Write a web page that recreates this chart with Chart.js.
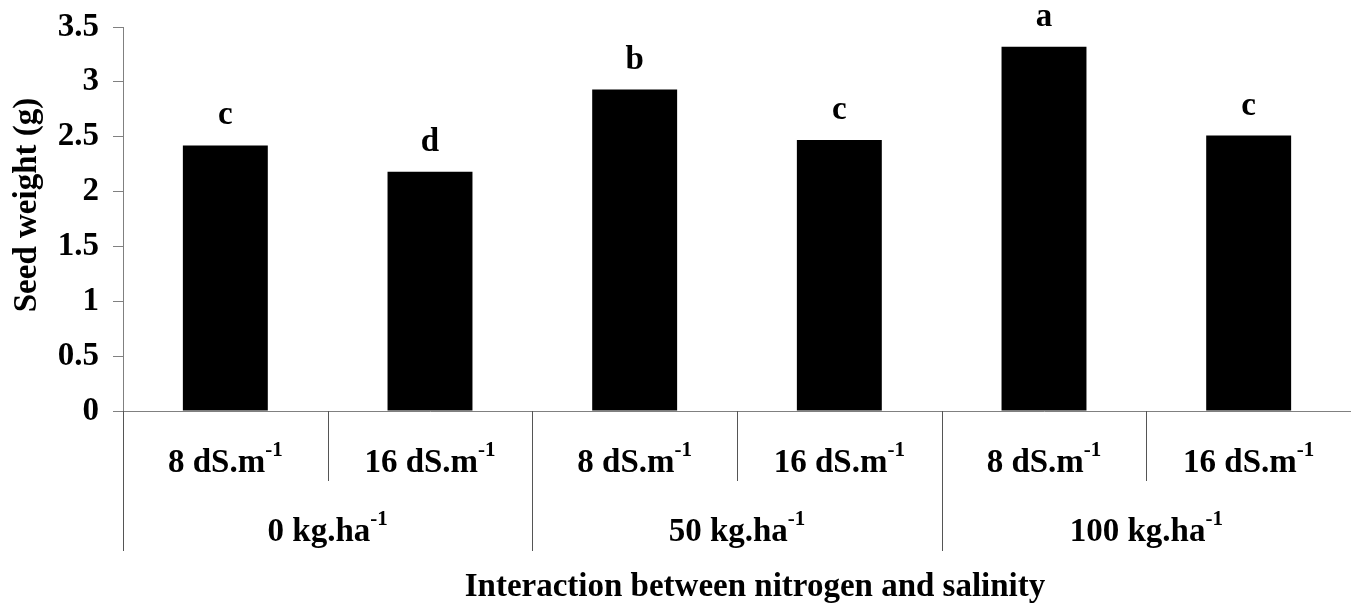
<!DOCTYPE html>
<html>
<head>
<meta charset="utf-8">
<script src="https://cdn.jsdelivr.net/npm/chart.js@4/dist/chart.umd.min.js"></script>
<style>
  html, body { margin: 0; padding: 0; background: #fff; }
  #wrap { width: 1351px; height: 606px; position: relative; }
</style>
</head>
<body>
<div id="wrap"><canvas id="seedChart"></canvas></div>
<script>
// salinity level under each bar, nitrogen rate under each pair
const salinity = ['8 dS.m', '16 dS.m', '8 dS.m', '16 dS.m', '8 dS.m', '16 dS.m'];
const nitrogen = ['0 kg.ha', '50 kg.ha', '100 kg.ha'];
const unitExp = '-1';
const seedWeight = [2.42, 2.18, 2.93, 2.47, 3.32, 2.51];
const letters = ['c', 'd', 'b', 'c', 'a', 'c'];
const yTitle = 'Seed weight (g)';
const xTitle = 'Interaction between nitrogen and salinity';

const FAMILY = '"Times New Roman", "Liberation Serif", serif';
const font = size => `bold ${size}px ${FAMILY}`;

// label with a raised exponent, centred on cx
function supText(ctx, base, exp, cx, y) {
    ctx.font = font(33);
    const wb = ctx.measureText(base).width;
    ctx.font = font(21);
    const we = ctx.measureText(exp).width;
    const x0 = cx - (wb + we) / 2;
    ctx.textAlign = 'left';
    ctx.font = font(33);
    ctx.fillText(base, x0, y);
    ctx.font = font(21);
    ctx.fillText(exp, x0 + wb, y - 16);
}

function vline(ctx, x, y1, y2) {
    ctx.beginPath();
    ctx.moveTo(x, y1);
    ctx.lineTo(x, y2);
    ctx.stroke();
}

const extras = {
    id: 'extras',
    afterDraw(chart) {
        const ctx = chart.ctx;
        const xs = chart.scales.x;
        const area = chart.chartArea;
        const step = xs.getPixelForValue(1) - xs.getPixelForValue(0);
        ctx.save();
        ctx.fillStyle = '#000';
        ctx.textBaseline = 'alphabetic';

        // significance letters
        ctx.font = font(33);
        ctx.textAlign = 'center';
        chart.getDatasetMeta(0).data.forEach((bar, i) => {
            ctx.fillText(letters[i], bar.x, bar.y - 21);
        });

        // category separators
        ctx.strokeStyle = '#555';
        ctx.lineWidth = 1;
        for (let i = 0; i < salinity.length; i++) {
            const edge = Math.round(xs.getPixelForValue(i) - step / 2) + 0.5;
            const len = i % 2 === 0 ? 140 : 70;
            vline(ctx, edge, area.bottom, area.bottom + len);
        }

        // salinity labels
        salinity.forEach((s, i) => {
            supText(ctx, s, unitExp, xs.getPixelForValue(i), area.bottom + 61);
        });

        // nitrogen labels
        nitrogen.forEach((n, g) => {
            const cx = (xs.getPixelForValue(2 * g) + xs.getPixelForValue(2 * g + 1)) / 2;
            supText(ctx, n, unitExp, cx, area.bottom + 130);
        });

        // axis titles
        ctx.font = font(33);
        ctx.textAlign = 'center';
        ctx.fillText(xTitle, (area.left + area.right) / 2 + 18, area.bottom + 185);

        ctx.translate(36, (area.top + area.bottom) / 2 - 14);
        ctx.rotate(-Math.PI / 2);
        ctx.fillText(yTitle, 0, 0);
        ctx.restore();
    }
};

new Chart(document.getElementById('seedChart'), {
    type: 'bar',
    data: {
        labels: salinity.map((s, i) => nitrogen[Math.floor(i / 2)] + ' / ' + s),
        datasets: [{
            data: seedWeight,
            backgroundColor: '#000',
            borderWidth: 0,
            barPercentage: 0.415,
            categoryPercentage: 1
        }]
    },
    options: {
        responsive: true,
        maintainAspectRatio: false,
        animation: false,
        layout: { padding: { top: 27, right: 0, left: 0, bottom: 0 } },
        plugins: {
            legend: { display: false },
            tooltip: { enabled: false }
        },
        scales: {
            x: {
                grid: { display: false, drawTicks: false },
                border: { color: '#808080', width: 1 },
                ticks: { display: false },
                afterFit: s => { s.height = 195; }
            },
            y: {
                min: 0,
                max: 3.5,
                grid: { drawOnChartArea: false, tickLength: 10, color: '#808080' },
                border: { color: '#808080', width: 1 },
                ticks: {
                    stepSize: 0.5,
                    padding: 14,
                    color: '#000',
                    font: { family: FAMILY, size: 33, weight: 'bold' },
                    callback: v => String(v)
                },
                afterFit: s => {
                    s.width = 123;
                    s.paddingTop = 0;
                    s.paddingBottom = 0;
                }
            }
        }
    },
    plugins: [extras]
});
</script>
</body>
</html>
